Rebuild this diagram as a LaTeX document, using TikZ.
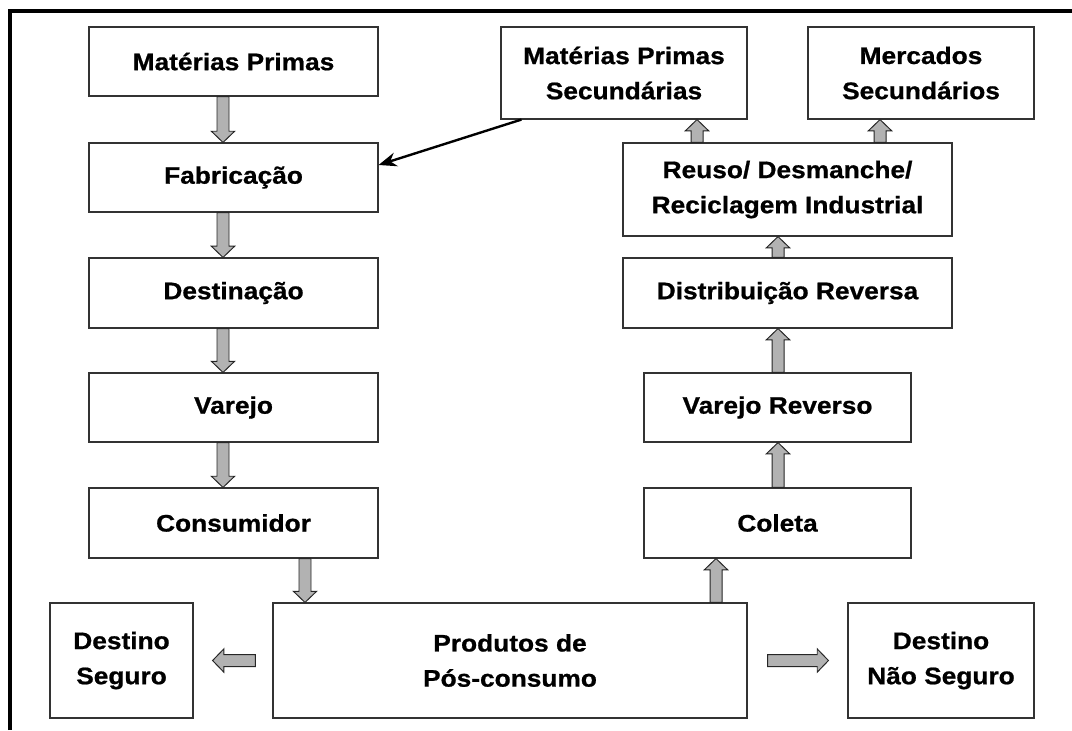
\documentclass[tikz,border=0pt]{standalone}
\usepackage{fontspec}
\setmainfont{Liberation Sans}[FakeStretch=1.1, BoldFeatures={FakeBold=0.8}]
\usetikzlibrary{calc,arrows.meta}

% sizes of the fat grey arrows
\def\aw{0.15cm}
\def\ah{0.29cm}
\def\al{0.28cm}

\tikzset{
  box/.style={draw=black!80, line width=0.8pt, fill=white, align=center, inner sep=0pt,
    font=\bfseries\fontsize{17}{25}\selectfont},
  sz/.style 2 args={minimum width=#1cm, minimum height=#2cm},
  fat/.style={draw=black!85, line width=0.7pt, fill=gray!60, line join=miter,
    to path={
      ($(\tikztostart)!\aw!90:(\tikztotarget)$)
      -- ($($(\tikztotarget)!\al!(\tikztostart)$)!\aw!90:(\tikztotarget)$)
      -- ($($(\tikztotarget)!\al!(\tikztostart)$)!\ah!90:(\tikztotarget)$)
      -- (\tikztotarget)
      -- ($($(\tikztotarget)!\al!(\tikztostart)$)!\ah!-90:(\tikztotarget)$)
      -- ($($(\tikztotarget)!\al!(\tikztostart)$)!\aw!-90:(\tikztotarget)$)
      -- ($(\tikztostart)!\aw!-90:(\tikztotarget)$) -- cycle}}
}

\begin{document}
\begin{tikzpicture}

\useasboundingbox (0,0) rectangle (26.8,-18.25);

% frame
\draw[line width=2.2pt, line join=miter] (0.25,-18.25) -- (0.25,-0.275) -- (26.8,-0.275);

% forward chain
\node[box, sz={7.225}{1.725}] (mp)   at (5.838,-1.538)  {Matérias Primas};
\node[box, sz={7.225}{1.725}] (fab)  at (5.838,-4.438)  {Fabricação};
\node[box, sz={7.225}{1.75}]  (dest) at (5.838,-7.325)  {Destinação};
\node[box, sz={7.225}{1.725}] (var)  at (5.838,-10.188) {Varejo};
\node[box, sz={7.225}{1.75}]  (cons) at (5.838,-13.075) {Consumidor};

% reverse chain
\node[box, sz={6.15}{2.3}]   (mps)   at (15.6,-1.825)   {Matérias Primas\\Secundárias};
\node[box, sz={5.65}{2.3}]   (merc)  at (23.025,-1.825) {Mercados\\Secundários};
\node[box, sz={8.225}{2.325}] (reuso) at (19.688,-4.738) {Reuso/ Desmanche/\\Reciclagem Industrial};
\node[box, sz={8.225}{1.75}] (dist)  at (19.688,-7.325) {Distribuição Reversa};
\node[box, sz={6.675}{1.725}] (vrev) at (19.438,-10.188) {Varejo Reverso};
\node[box, sz={6.675}{1.75}] (col)   at (19.438,-13.075) {Coleta};

% bottom row
\node[box, sz={3.575}{2.875}] (ds)   at (3.038,-16.513)  {Destino\\Seguro};
\node[box, sz={11.85}{2.875}] (prod) at (12.75,-16.513)  {Produtos de\\Pós-consumo};
\node[box, sz={4.65}{2.875}]  (dns)  at (23.525,-16.513) {Destino\\Não Seguro};

% arrow columns
\coordinate (xl) at (5.575,0);
\coordinate (xc) at (7.625,0);
\coordinate (xp) at (17.9,0);
\coordinate (xr) at (19.45,0);
\coordinate (xs) at (17.425,0);
\coordinate (xm) at (22.0,0);

\draw[fat] (mp.south -| xl) to (fab.north -| xl);
\draw[fat] (fab.south -| xl) to (dest.north -| xl);
\draw[fat] (dest.south -| xl) to (var.north -| xl);
\draw[fat] (var.south -| xl) to (cons.north -| xl);
\draw[fat] (cons.south -| xc) to (prod.north -| xc);

\draw[fat] (prod.north -| xp) to (col.south -| xp);
\draw[fat] (col.north -| xr) to (vrev.south -| xr);
\draw[fat] (vrev.north -| xr) to (dist.south -| xr);
\draw[fat] (dist.north -| xr) to (reuso.south -| xr);
\draw[fat] (reuso.north -| xs) to (mps.south -| xs);
\draw[fat] (reuso.north -| xm) to (merc.south -| xm);

\draw[fat] ([xshift=-0.425cm]prod.west) to ([xshift=0.475cm]ds.east);
\draw[fat] ([xshift=0.5cm]prod.east) to ([xshift=-0.475cm]dns.west);

% secondary raw materials back to manufacturing
\draw[line width=1.7pt, -{Stealth[length=0.45cm, width=0.35cm]}]
  ([xshift=0.525cm]mps.south west) -- ([yshift=0.313cm]fab.east);

\end{tikzpicture}
\end{document}
